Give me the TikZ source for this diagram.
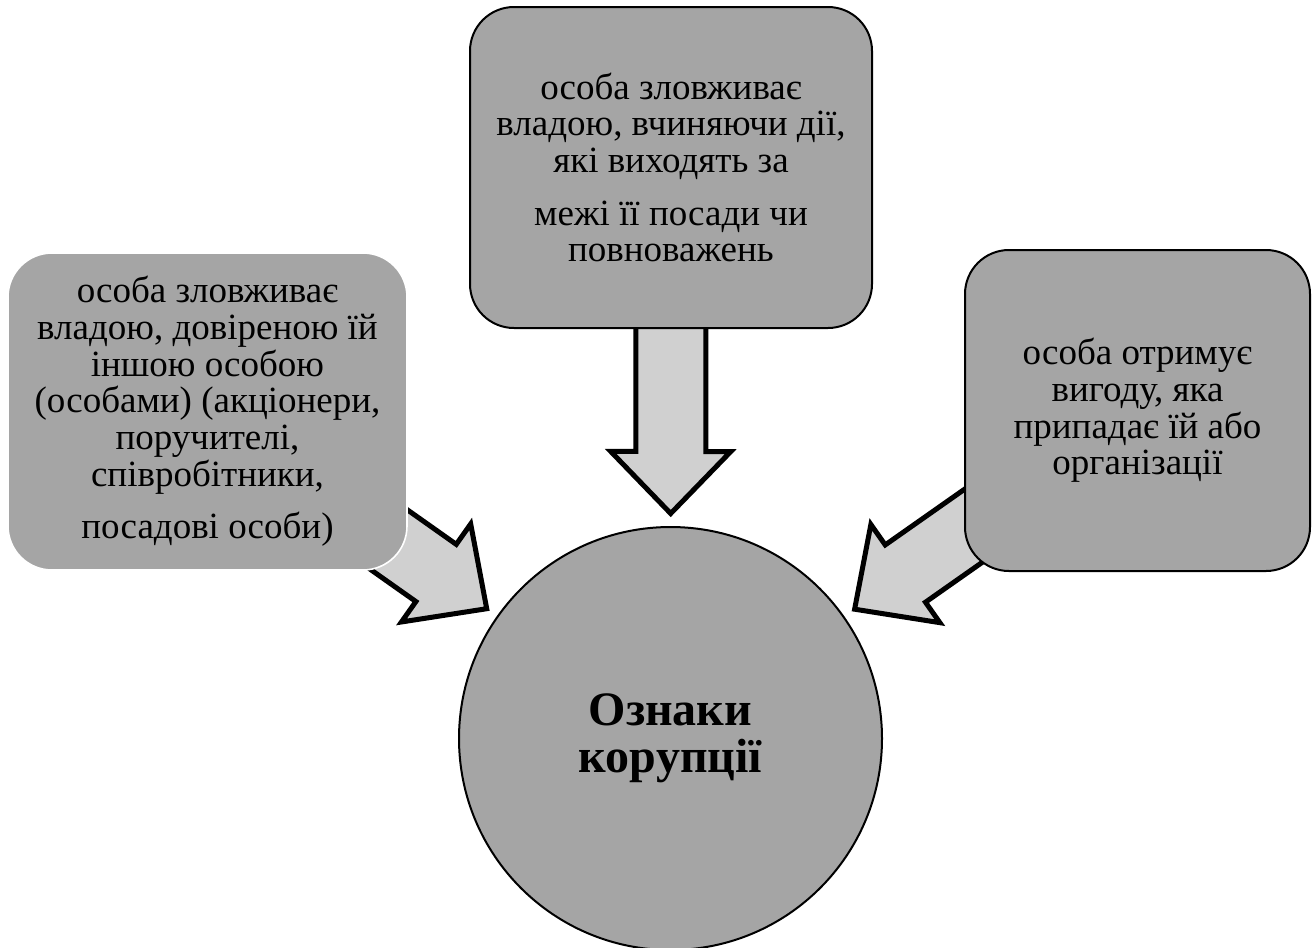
\documentclass[tikz,border=0pt]{standalone}
\usepackage{fontspec}
\setmainfont{Liberation Serif}
\usetikzlibrary{calc}
\pgfdeclarelayer{back}
\pgfsetlayers{back,main}
\definecolor{boxgrey}{RGB}{165,165,165}
\definecolor{arrowgrey}{RGB}{208,208,208}
\tikzset{
  card/.style={rectangle, rounded corners=33pt, fill=boxgrey, align=center,
    inner sep=0pt, font=\fontsize{27.75}{27.5}\selectfont},
  outlined/.style={draw=black, line width=1.5pt},
  bare/.style={draw=white, line width=1.2pt},
  hub/.style={circle, fill=boxgrey, draw=black, line width=1.5pt,
    minimum size=317.25pt, align=center, inner sep=0pt,
    font=\fontsize{36}{35}\selectfont\bfseries},
  blockarrow/.style={fill=arrowgrey, draw=black, line width=3.75pt, line join=miter},
}
% block arrow from the centre of #1 towards the circle #2
\newcommand\blockarrow[3]{%
  \coordinate (#3tip) at ($(#2.center)!168.75pt!(#1.center)$);
  \coordinate (#3base) at ($(#3tip)!46.5pt!(#1.center)$);
  \draw[blockarrow]
    ($(#1.center)!26.25pt!90:(#3tip)$) --
    ($(#3base)!26.25pt!-90:(#1.center)$) --
    ($(#3base)!45pt!-90:(#1.center)$) --
    (#3tip) --
    ($(#3base)!45pt!90:(#1.center)$) --
    ($(#3base)!26.25pt!90:(#1.center)$) --
    ($(#1.center)!26.25pt!-90:(#3tip)$) -- cycle;
}
\begin{document}
\begin{tikzpicture}[x=0.75pt,y=-0.75pt]
  \useasboundingbox (0,0) rectangle (1316,947);

  \node[hub] (core) at (670.5,738.5) {Ознаки\\корупції};

  \node[card, outlined, minimum width=301.5pt, minimum height=240.75pt] (abuse) at (671,167.5)
    {особа зловживає\\владою, вчиняючи дії,\\які виходять за\\[12pt]межі її посади чи\\повноважень};

  \node[card, bare, minimum width=299.25pt, minimum height=237.75pt] (trust) at (207.5,411.5)
    {особа зловживає\\владою, довіреною їй\\іншою особою\\(особами) (акціонери,\\поручителі,\\співробітники,\\[12pt]посадові особи)};

  \node[card, outlined, minimum width=258.75pt, minimum height=240.75pt] (gain) at (1137.5,410.5)
    {особа отримує\\вигоду, яка\\припадає їй або\\організації};

  \begin{pgfonlayer}{back}
    \blockarrow{trust}{core}{l}
    \blockarrow{abuse}{core}{m}
    \blockarrow{gain}{core}{r}
  \end{pgfonlayer}
\end{tikzpicture}
\end{document}
